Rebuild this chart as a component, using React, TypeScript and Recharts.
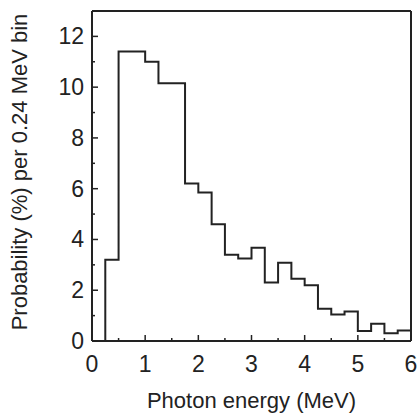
import React from 'react';
import { ComposedChart, Line, XAxis, YAxis, ReferenceLine, Label } from 'recharts';

const binStarts = [0, 0.25, 0.5, 0.75, 1.0, 1.25, 1.5, 1.75, 2.0, 2.25, 2.5, 2.75, 3.0, 3.25, 3.5, 3.75, 4.0, 4.25, 4.5, 4.75, 5.0, 5.25, 5.5, 5.75];
const probabilities = [0, 3.2, 11.4, 11.4, 11.0, 10.15, 10.15, 6.2, 5.85, 4.6, 3.4, 3.25, 3.67, 2.3, 3.08, 2.45, 2.2, 1.27, 1.04, 1.16, 0.39, 0.68, 0.31, 0.41];
const xTicks = [0, 0.5, 1, 1.5, 2, 2.5, 3, 3.5, 4, 4.5, 5, 5.5, 6];
const yTicks = [0, 1, 2, 3, 4, 5, 6, 7, 8, 9, 10, 11, 12];
const xMax = 6;
const yMax = 13;

const data = [
  ...binStarts.map((x, i) => ({ x, y: probabilities[i] })),
  { x: xMax, y: probabilities[probabilities.length - 1] },
];

const INK = '#222';
const FONT = '"Liberation Sans", Arial, Helvetica, sans-serif';

const XTick = (props: any) => {
  const { x, y, payload } = props;
  const v = payload.value as number;
  const major = Number.isInteger(v);
  return (
    <g>
      <line x1={x} x2={x} y1={y} y2={y - (major ? 6 : 3)} stroke={INK} strokeWidth={1.5} />
      {major && (
        <text x={x} y={y + 31} textAnchor="middle" fontSize={23} fill={INK} fontFamily={FONT}>
          {v}
        </text>
      )}
    </g>
  );
};

const YTick = (props: any) => {
  const { x, y, payload } = props;
  const v = payload.value as number;
  const major = v % 2 === 0;
  return (
    <g>
      <line x1={x} x2={x + (major ? 6 : 3)} y1={y} y2={y} stroke={INK} strokeWidth={1.5} />
      {major && (
        <text x={x - 8} y={y + 8} textAnchor="end" fontSize={23} fill={INK} fontFamily={FONT}>
          {v}
        </text>
      )}
    </g>
  );
};

export default function App() {
  return (
    <div style={{ position: 'absolute', left: 0, top: 0, background: '#fff' }}>
      <ComposedChart
        width={419}
        height={414}
        data={data}
        margin={{ top: 11, right: 8, left: 0, bottom: 0 }}
      >
        <XAxis
          dataKey="x"
          type="number"
          domain={[0, xMax]}
          ticks={xTicks}
          interval={0}
          tickLine={false}
          tickSize={0}
          tickMargin={0}
          height={73}
          axisLine={{ stroke: INK, strokeWidth: 2 }}
          tick={<XTick />}
        >
          <Label
            content={(p: any) => {
              const vb = p.viewBox;
              return (
                <text
                  x={vb.x + vb.width / 2}
                  y={408}
                  textAnchor="middle"
                  fontSize={22}
                  fill={INK}
                  fontFamily={FONT}
                >
                  Photon energy (MeV)
                </text>
              );
            }}
          />
        </XAxis>
        <YAxis
          type="number"
          domain={[0, yMax]}
          ticks={yTicks}
          interval={0}
          tickLine={false}
          tickSize={0}
          tickMargin={0}
          width={92}
          axisLine={{ stroke: INK, strokeWidth: 2 }}
          tick={<YTick />}
        >
          <Label
            content={() => (
              <text
                x={19}
                y={172}
                transform="rotate(-90 19 172)"
                textAnchor="middle"
                dominantBaseline="central"
                fontSize={22}
                fill={INK}
                fontFamily={FONT}
              >
                Probability (%) per 0.24 MeV bin
              </text>
            )}
          />
        </YAxis>
        <ReferenceLine y={yMax} stroke={INK} strokeWidth={2} />
        <ReferenceLine x={xMax} stroke={INK} strokeWidth={2} />
        <Line
          type="stepAfter"
          dataKey="y"
          stroke={INK}
          strokeWidth={2}
          dot={false}
          activeDot={false}
          isAnimationActive={false}
        />
      </ComposedChart>
    </div>
  );
}
